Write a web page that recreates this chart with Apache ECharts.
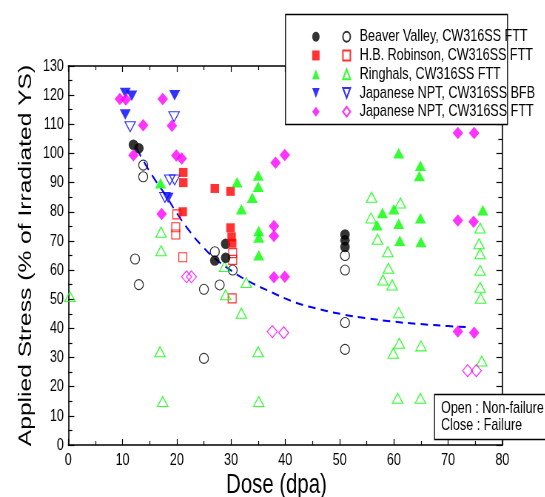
<!DOCTYPE html>
<html><head><meta charset="utf-8">
<script src="https://cdn.jsdelivr.net/npm/echarts@6/dist/echarts.min.js"></script>
<style>
html,body{margin:0;padding:0;background:#fff;overflow:hidden}
#wrap{width:545px;height:497px;overflow:hidden;position:relative}
#c{height:497px;transform-origin:0 0;position:absolute;left:0;top:0}
</style>
</head><body><div id="wrap"><div id="c"></div></div>
<script>
// The reference figure is horizontally condensed; the chart is laid out wider and squeezed by S.
const S = 0.74;
const FONT = "'Liberation Sans',Arial,Helvetica,sans-serif";

// Beaver Valley, CW316SS FTT
const bvFail = [[12,103],[13,101.8],[27,63.3],[29,69],[29,64.2],[51,72.2],[51,70.2],[51,67.9]];
const bvNon = [[13.8,96],[13.8,92],[12.3,63.8],[13,55],[25,53.4],[25,29.7],[27,66.3],[27.9,54.9],[30.3,60],[51,65],[51,60],[51,42],[51,32.8]];
// H.B. Robinson, CW316SS FTT
const hbrFail = [[21.2,93.5],[21.2,90],[21.1,80],[27,88],[29.9,87],[29.9,74.5],[30.1,71.4],[30.2,69.2]];
const hbrNon = [[20,79.1],[19.8,74.7],[19.8,72.2],[21.1,64.4],[30.3,65.8],[30.3,63.5],[30.2,50.3]];
// Ringhals, CW316SS FTT
const rhFail = [[17,89.8],[31.1,90.1],[35,92.4],[35,88.6],[33.9,84.8],[31.9,80.9],[35.1,73.4],[35.1,71.2],[35.1,65.1],
  [60.9,100.1],[64.9,95.8],[64.7,92.3],[57.9,79.6],[60,80.9],[76.4,80.5],[56.9,75.4],[60.9,75.9],[64.9,77.8],[61.1,70.1],[65,69.6]];
const rhNon = [[0.3,50.9],[17.1,73],[17.1,66.6],[16.9,32],[17.4,14.9],[28.8,61.2],[32.8,55.7],[29,51.5],[31.9,45.2],[35,32],[35.1,14.9],
  [55.9,85],[61.2,83],[55.8,77.9],[57,70.6],[58.9,66.3],[59,60.6],[58,56.6],[59.7,54.9],[60.9,45.4],[61,34.9],[59.9,31.5],[65,34],
  [60.7,16],[64.9,16],[75.9,74.4],[75.7,69],[75.9,65.6],[75.9,59.9],[75.9,54.1],[76,50.3],[76.2,28.8]];
// Japanese NPT, CW316SS BFB
const jbFail = [[10.5,120.7],[11.7,119.8],[19.6,120],[10.5,113.4],[18.4,84.7]];
const jbNon = [[11.4,109.2],[19.5,112.6],[18.7,90.9],[19.6,90.9],[17.8,84.9]];
// Japanese NPT, CW316SS FTT
const jfFail = [[9.5,118.7],[10.6,118.5],[17.4,118.7],[13.8,109.7],[19.1,109.5],[12,99.4],[19.9,99.3],[20.9,98.3],[17.2,79.2],
  [38.2,96.8],[39.9,99.5],[37.9,75.1],[37.9,71.7],[37.9,57.5],[39.9,57.7],[71.8,107],[74.8,107],[71.8,77],[74.7,76.6],[71.8,38.9],[74.8,38.5]];
const jfNon = [[21.8,57.7],[22.7,57.7],[37.6,38.9],[39.7,38.5],[73.6,25.5],[75.2,25.5]];
// dashed trend curve
const trend = [[12.6,101.8],[14.1,96.6],[16,90.9],[18.1,85.2],[20,79.5],[22.4,73.2],[24.5,68.6],[27,64],[30.3,59.5],[32.8,56.6],
  [36.5,53.2],[41.4,49.2],[44.5,47.4],[50.6,44.8],[55,43.5],[60,42.3],[64.7,41.5],[70,40.8],[73.6,40.4]];

const names = ['Beaver Valley, CW316SS FTT','H.B. Robinson, CW316SS FTT','Ringhals, CW316SS FTT','Japanese NPT, CW316SS BFB','Japanese NPT, CW316SS FTT'];
const colors = ['#000000','#ff0000','#00ff00','#0000ff','#ff00ff'];
const CIRCLE = 'path://M5,0A5,5,0,1,1,5,10A5,5,0,1,1,5,0Z';
const DOWN = 'path://M0,0L10,0L5,10Z';
const UP = 'path://M5,0L10,10L0,10Z';
const SQUARE = 'path://M0,0L10,0L10,10L0,10Z';
const DIAM = 'path://M5,0L10,5L5,10L0,5Z';

const el = document.getElementById('c');
el.style.width = (545 / S) + 'px';
el.style.transform = 'scaleX(' + S + ')';
const X = v => v / S; // screen px -> chart px (horizontal)
const sz = (w, h) => [w / S, h];

function filled(i, data, symbol, size) {
  return {type:'scatter', name: names[i] + ' (failure)', data, symbol, symbolSize: size,
    itemStyle:{color: colors[i], borderWidth:0}, z: 3};
}
function open(i, data, symbol, size) {
  return {type:'scatter', name: names[i], data, symbol, symbolSize: size,
    itemStyle:{color:'rgba(255,255,255,0)', borderColor: colors[i], borderWidth:1.2}, z: 3};
}

function axis(extra, tickLen, minorLen) {
  return Object.assign({
    type:'value',
    axisLine:{show:true, onZero:false, lineStyle:{color:'#000', width:1.6}},
    axisTick:{show:true, inside:true, length:tickLen, lineStyle:{color:'#000', width:1.2}},
    minorTick:{show:true, splitNumber:2, length:minorLen, lineStyle:{color:'#000', width:1.2}},
    splitLine:{show:false}
  }, extra);
}

const chart = echarts.init(el, null, {renderer:'canvas'});
chart.setOption({
  animation:false,
  backgroundColor:'#fff',
  textStyle:{fontFamily: FONT},
  grid:{left:X(68.3), right:X(42.3), top:66, bottom:52, containLabel:false, outerBoundsMode:'none'},
  xAxis:[
    axis({min:0, max:80, interval:10, position:'bottom',
      axisLabel:{color:'#000', fontSize:17, margin:7, fontFamily:FONT},
      name:'Dose (dpa)', nameLocation:'middle', nameGap:26, nameMoveOverlap:false,
      nameTextStyle:{color:'#000', fontSize:27.5, fontFamily:FONT, padding:[0,24,0,0]}}, 6, 4),
    axis({min:0, max:80, interval:10, position:'top', axisLabel:{show:false}}, 6, 4)
  ],
  yAxis:[
    axis({min:0, max:130, interval:10, position:'left',
      axisLabel:{color:'#000', fontSize:17, margin:6, fontFamily:FONT},
      name:'Applied Stress (% of Irradiated YS)', nameLocation:'middle', nameGap:45, nameMoveOverlap:false,
      nameTextStyle:{color:'#000', fontSize:24.6, fontFamily:FONT}}, X(6), X(4)),
    axis({min:0, max:130, interval:10, position:'right', axisLabel:{show:false}}, X(6), X(4))
  ],
  legend:[
    {orient:'vertical', left:X(313.3) - 6.5, top:23.2, itemWidth:13, itemHeight:10, itemGap:1.75,
      data: names.map(n => n + ' (failure)'), formatter: () => ' ',
      textStyle:{fontSize:17, lineHeight:17, fontFamily:FONT}, selectedMode:false, z:6},
    {orient:'vertical', left:X(343.3) - 6.5, top:23.2, itemWidth:13, itemHeight:10, itemGap:1.75,
      data: names.slice(),
      textStyle:{fontSize:17, lineHeight:17, color:'#000', fontFamily:FONT, padding:[0,0,0,6]}, selectedMode:false, z:6}
  ],
  graphic:[
    {type:'rect', z:5, shape:{x:X(285.5), y:14.5, width:300, height:110}, style:{fill:'#fff', stroke:'#000', lineWidth:1.3}},
    {type:'rect', z:5, shape:{x:X(434.5), y:394.5, width:200, height:45}, style:{fill:'#fff', stroke:'#000', lineWidth:1.3}},
    {type:'text', z:6, x:X(441), y:408, style:{text:'Open : Non-failure', font:'17px ' + FONT, fill:'#000', verticalAlign:'middle'}},
    {type:'text', z:6, x:X(441), y:425, style:{text:'Close : Failure', font:'17px ' + FONT, fill:'#000', verticalAlign:'middle'}}
  ],
  series:[
    {type:'line', name:'trend', data: trend, smooth:true, symbol:'none', z:2,
      lineStyle:{color:'#0000ff', width:2, type:[10,7]}},
    open(0, bvNon, CIRCLE, sz(9, 10)),
    open(1, hbrNon, SQUARE, sz(8, 9)),
    open(2, rhNon, UP, sz(10.5, 10)),
    open(3, jbNon, DOWN, sz(10.5, 10)),
    open(4, jfNon, DIAM, sz(10, 12)),
    filled(0, bvFail, CIRCLE, sz(9.5, 10.5)),
    filled(1, hbrFail, SQUARE, sz(8.5, 9)),
    filled(2, rhFail, UP, sz(11, 10.5)),
    filled(3, jbFail, DOWN, sz(11, 10.5)),
    filled(4, jfFail, DIAM, sz(10.5, 12.5))
  ]
});
</script></body></html>
